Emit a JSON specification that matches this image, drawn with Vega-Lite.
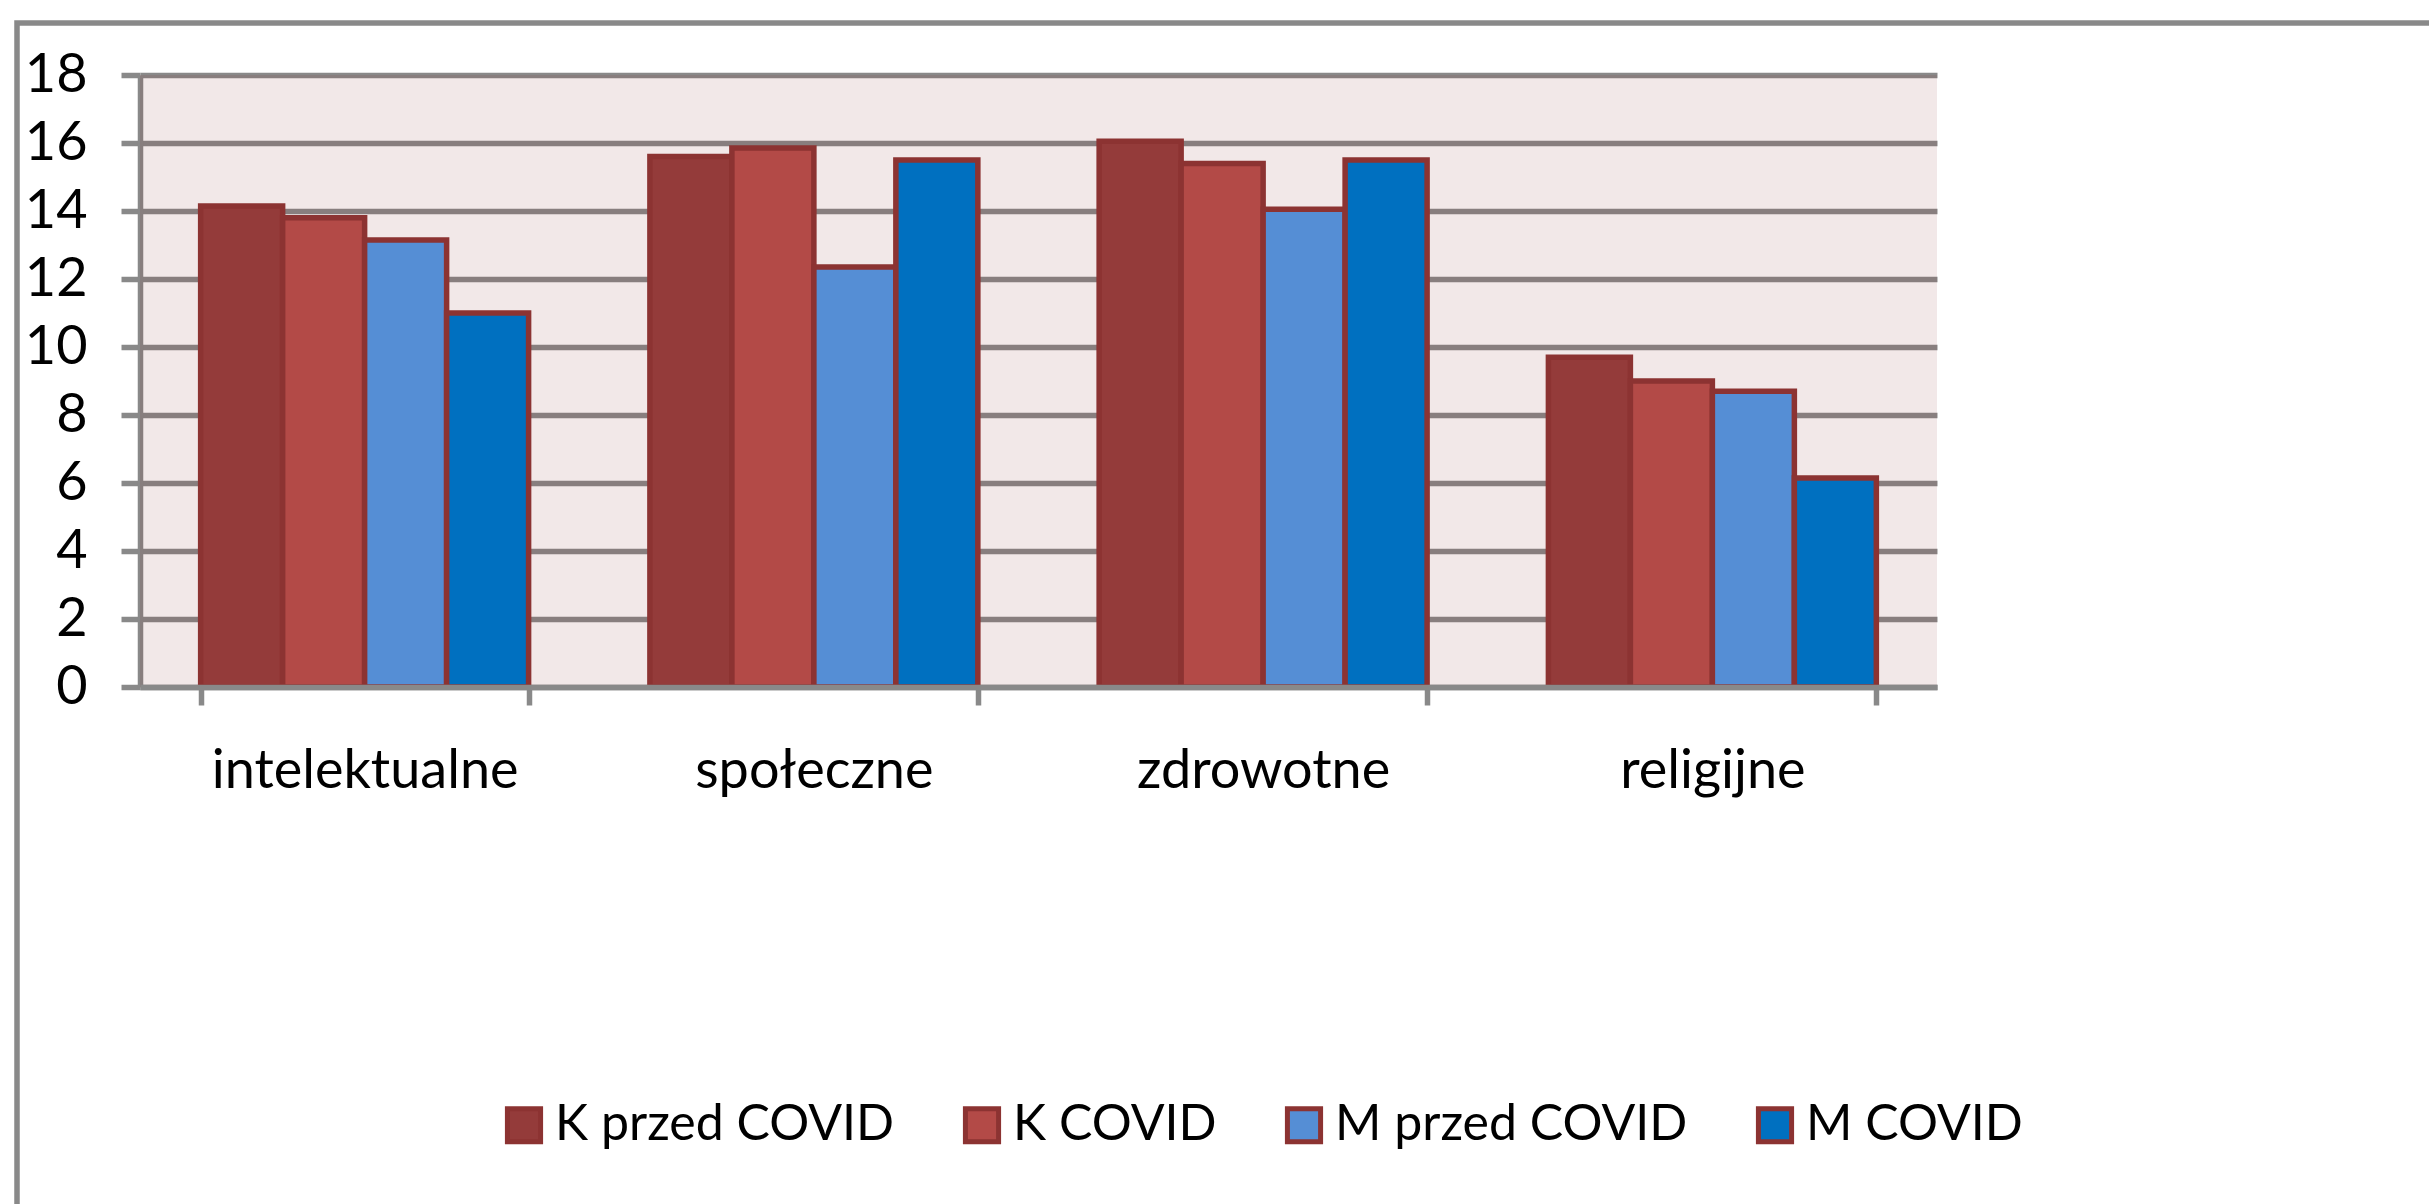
{
  "$schema": "https://vega.github.io/schema/vega-lite/v6.json",
  "width": 2416,
  "height": 1186,
  "autosize": {"type": "none"},
  "padding": {"left": 17, "top": 23, "right": 0, "bottom": 0},
  "background": "#FFFFFF",
  "config": {
    "view": {"stroke": "#898989", "strokeWidth": 5.5},
    "font": "Lato"
  },
  "data": {
    "values": [
      {"kategoria": "intelektualne", "grupa": "K przed COVID", "wartosc": 14.15},
      {"kategoria": "intelektualne", "grupa": "K COVID", "wartosc": 13.8},
      {"kategoria": "intelektualne", "grupa": "M przed COVID", "wartosc": 13.15},
      {"kategoria": "intelektualne", "grupa": "M COVID", "wartosc": 11.0},
      {"kategoria": "społeczne", "grupa": "K przed COVID", "wartosc": 15.6},
      {"kategoria": "społeczne", "grupa": "K COVID", "wartosc": 15.85},
      {"kategoria": "społeczne", "grupa": "M przed COVID", "wartosc": 12.35},
      {"kategoria": "społeczne", "grupa": "M COVID", "wartosc": 15.5},
      {"kategoria": "zdrowotne", "grupa": "K przed COVID", "wartosc": 16.05},
      {"kategoria": "zdrowotne", "grupa": "K COVID", "wartosc": 15.4},
      {"kategoria": "zdrowotne", "grupa": "M przed COVID", "wartosc": 14.05},
      {"kategoria": "zdrowotne", "grupa": "M COVID", "wartosc": 15.5},
      {"kategoria": "religijne", "grupa": "K przed COVID", "wartosc": 9.7},
      {"kategoria": "religijne", "grupa": "K COVID", "wartosc": 9.0},
      {"kategoria": "religijne", "grupa": "M przed COVID", "wartosc": 8.7},
      {"kategoria": "religijne", "grupa": "M COVID", "wartosc": 6.15}
    ]
  },
  "layer": [
    {
      "data": {"values": [{}]},
      "mark": {"type": "rect", "fill": "#7D1919", "opacity": 0.1},
      "encoding": {
        "x": {"datum": 0, "type": "quantitative", "scale": {"domain": [0, 1], "range": [123, 1920], "nice": false, "zero": false}, "axis": null},
        "x2": {"datum": 1},
        "y": {
          "datum": 0,
          "type": "quantitative",
          "scale": {"domain": [0, 18], "range": [664, 52], "nice": false, "zero": true},
          "axis": {
            "orient": "left",
            "offset": -123,
            "title": null,
            "values": [0, 2, 4, 6, 8, 10, 12, 14, 16, 18],
            "grid": true,
            "gridColor": "#898989",
            "gridWidth": 5.5,
            "domainColor": "#898989",
            "domainWidth": 5.5,
            "tickColor": "#898989",
            "tickWidth": 5.5,
            "tickSize": 19,
            "labelFont": "Lato",
            "labelFontSize": 54,
            "labelColor": "#000000",
            "labelPadding": 34,
            "labelLimit": 0
          }
        },
        "y2": {"datum": 18}
      }
    },
    {
      "mark": {"type": "bar", "stroke": "#8C3332", "strokeWidth": 5.5},
      "encoding": {
        "x": {
          "field": "kategoria",
          "type": "nominal",
          "sort": ["intelektualne", "społeczne", "zdrowotne", "religijne"],
          "scale": {"range": [123, 1920], "paddingInner": 0.27, "paddingOuter": 0.135},
          "axis": {
            "orient": "bottom",
            "offset": -522,
            "title": null,
            "labelAngle": 0,
            "tickBand": "extent",
            "tickSize": 18,
            "tickWidth": 5.5,
            "tickColor": "#898989",
            "domainColor": "#898989",
            "domainWidth": 5.5,
            "labelFont": "Lato",
            "labelFontSize": 54,
            "labelColor": "#000000",
            "labelBaseline": "alphabetic",
            "labelPadding": 82,
            "labelLimit": 0,
            "zindex": 1
          }
        },
        "xOffset": {
          "field": "grupa",
          "type": "nominal",
          "sort": ["K przed COVID", "K COVID", "M przed COVID", "M COVID"],
          "scale": {"paddingInner": 0, "paddingOuter": 0}
        },
        "y": {
          "field": "wartosc",
          "type": "quantitative",
          "scale": {"domain": [0, 18], "range": [664, 52], "nice": false, "zero": true},
          "axis": {
            "orient": "left",
            "offset": -123,
            "title": null,
            "values": [0, 2, 4, 6, 8, 10, 12, 14, 16, 18],
            "grid": true,
            "gridColor": "#898989",
            "gridWidth": 5.5,
            "domainColor": "#898989",
            "domainWidth": 5.5,
            "tickColor": "#898989",
            "tickWidth": 5.5,
            "tickSize": 19,
            "labelFont": "Lato",
            "labelFontSize": 54,
            "labelColor": "#000000",
            "labelPadding": 34,
            "labelLimit": 0
          }
        },
        "color": {
          "field": "grupa",
          "type": "nominal",
          "sort": ["K przed COVID", "K COVID", "M przed COVID", "M COVID"],
          "scale": {
            "domain": ["K przed COVID", "K COVID", "M przed COVID", "M COVID"],
            "range": ["#943B3A", "#B34A47", "#558ED5", "#0070C0"]
          },
          "legend": {
            "orient": "none",
            "legendX": 482,
            "legendY": 1077,
            "direction": "horizontal",
            "title": null,
            "padding": 0,
            "symbolType": "square",
            "symbolSize": 1100,
            "symbolStrokeColor": "#8C3332",
            "symbolStrokeWidth": 5,
            "symbolOpacity": 1,
            "labelFont": "Lato",
            "labelFontSize": 50,
            "labelColor": "#000000",
            "labelOffset": 6,
            "labelLimit": 0,
            "columnPadding": 60
          }
        }
      }
    }
  ],
  "resolve": {"scale": {"x": "independent"}}
}
